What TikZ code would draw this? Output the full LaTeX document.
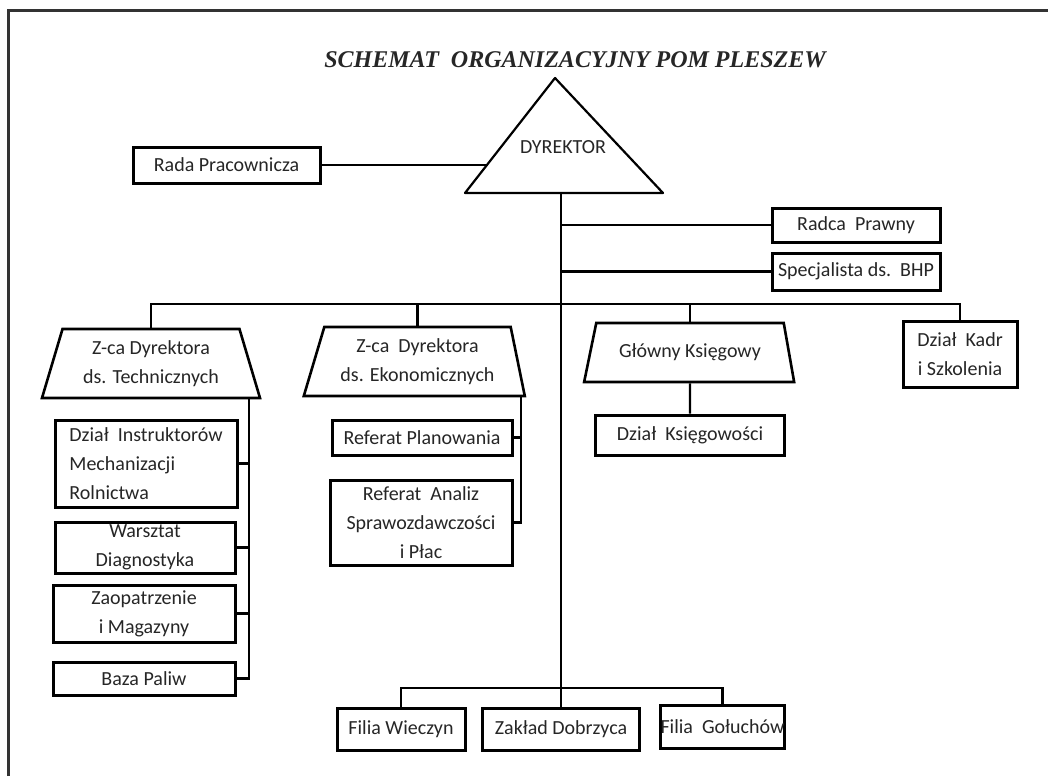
\documentclass[tikz,border=0pt]{standalone}
\usepackage{fontspec}
\setsansfont{Carlito}
\newfontfamily\titlefont{Liberation Serif}
\usetikzlibrary{shapes.geometric,calc}

\begin{document}
\begin{tikzpicture}[x=0.5pt,y=-0.5pt]
	\tikzset{every node/.style={font=\sffamily\fontsize{10}{14.5}\selectfont, text=black!85, inner sep=0pt, align=center}}
	\tikzset{box/.style={draw, line width=1.5pt},
		zca/.style={draw, line width=1.3pt, trapezium, trapezium stretches body},
		lnk/.style={line width=1.1pt}}

	\useasboundingbox (0,0) rectangle (1048,776);
	\fill[white] (0,0) rectangle (1048,776);
	\draw[line width=1.5pt, black!80] (8,776) -- (8,10) -- (1048,10);

	\node[font=\titlefont\bfseries\itshape\fontsize{12}{14}\selectfont] (title) at (575,60) {SCHEMAT\ \ ORGANIZACYJNY POM PLESZEW};

	% dyrektor
	\coordinate (dtop) at (555,78);
	\coordinate (dbl) at (465,193);
	\coordinate (dbr) at (663,193);
	\coordinate (dbase) at (561,193);
	\coordinate (dleft) at ($(dtop)!0.75!(dbl)$);
	\draw[line width=1.1pt, line join=round] (dtop) -- (dbl) -- (dbr) -- cycle;
	\node (dir) at (563,147) {DYREKTOR};

	\node[box, minimum width=93.5pt, minimum height=18pt] (rada) at (226.5,165) {Rada Pracownicza};
	\node[box, minimum width=84pt, minimum height=17pt] (radca) at (856,225) {Radca\ \ Prawny};
	\node[box, minimum width=84pt, minimum height=18.5pt] (bhp) at (856,271.5) {Specjalista ds.\ \ BHP};

	% zastepcy
	\node[zca, trapezium left angle=66, trapezium right angle=66, minimum width=109pt, minimum height=34.5pt] (techn) at (151,363.5) {Z-ca Dyrektora\\ds. Technicznych};
	\node[zca, trapezium left angle=66, trapezium right angle=73, minimum width=110.5pt, minimum height=34.5pt] (ekon) at (417.5,361.5) {Z-ca\ \ Dyrektora\\ds. Ekonomicznych};
	\node[zca, trapezium left angle=55, trapezium right angle=59, minimum width=105pt, minimum height=29.5pt] (ksieg) at (690,352.5) {Główny Księgowy};
	\node[box, minimum width=57pt, minimum height=33pt] (kadr) at (960,354) {Dział\ \ Kadr\\i Szkolenia};

	% dzialy techniczne
	\node[box, minimum width=91pt, minimum height=43.5pt, align=left] (instr) at (146,463.5) {Dział\ \ Instruktorów\\Mechanizacji\\Rolnictwa};
	\node[box, minimum width=90pt, minimum height=25.5pt] (warszt) at (145,547.5) {Warsztat\\Diagnostyka};
	\node[box, minimum width=91pt, minimum height=28.5pt] (zaop) at (144,613.5) {Zaopatrzenie\\i Magazyny};
	\node[box, minimum width=91pt, minimum height=16.5pt] (baza) at (144,678.5) {Baza Paliw};

	% referaty
	\node[box, minimum width=90pt, minimum height=17.5pt] (plan) at (422,437.5) {Referat Planowania};
	\node[box, minimum width=91pt, minimum height=42.5pt] (analiz) at (421,522.5) {Referat\ \ Analiz\\Sprawozdawczości\\i Płac};
	\node[box, minimum width=94.5pt, minimum height=20pt] (ksiegow) at (690,435) {Dział\ \ Księgowości};

	% filie
	\node[box, minimum width=64pt, minimum height=21pt] (wieczyn) at (401,729) {Filia Wieczyn};
	\node[box, minimum width=78.5pt, minimum height=21pt] (dobrz) at (561,729) {Zakład Dobrzyca};
	\node[box, minimum width=60.5pt, minimum height=21.5pt] (goluch) at (722.5,726.5) {Filia\ \ Gołuchów};

	% polaczenia
	\coordinate (bus) at (dbase |- 0,304);
	\coordinate (fbus) at (dbase |- 0,688);
	\draw[lnk] (rada.east) -- (rada.east -| dleft);
	\draw[lnk] (dbase) -- (dobrz.north);
	\draw[lnk] (radca.west) -- (radca.west -| dbase);
	\draw[lnk] (bhp.west) -- (bhp.west -| dbase);
	\draw[lnk] (techn.north) |- (bus) -| (kadr.north);
	\draw[lnk] (ekon.north) -- (ekon.north |- bus);
	\draw[lnk] (ksieg.north) -- (ksieg.north |- bus);
	\draw[lnk] (ksieg.south) -- (ksiegow.north);
	\draw[lnk] (wieczyn.north) |- (fbus) -| (goluch.north);

	\path ($(techn.bottom right corner)+(-13,0)$) coordinate (tcol);
	\draw[lnk] (tcol) |- (baza.east);
	\foreach \n in {instr,warszt,zaop}
		\draw[lnk] (\n.east) -- (\n.east -| tcol);

	\path ($(ekon.bottom right corner)+(-5,0)$) coordinate (ecol);
	\draw[lnk] (ecol) |- (analiz.east);
	\draw[lnk] (plan.east) -- (plan.east -| ecol);
\end{tikzpicture}
\end{document}
